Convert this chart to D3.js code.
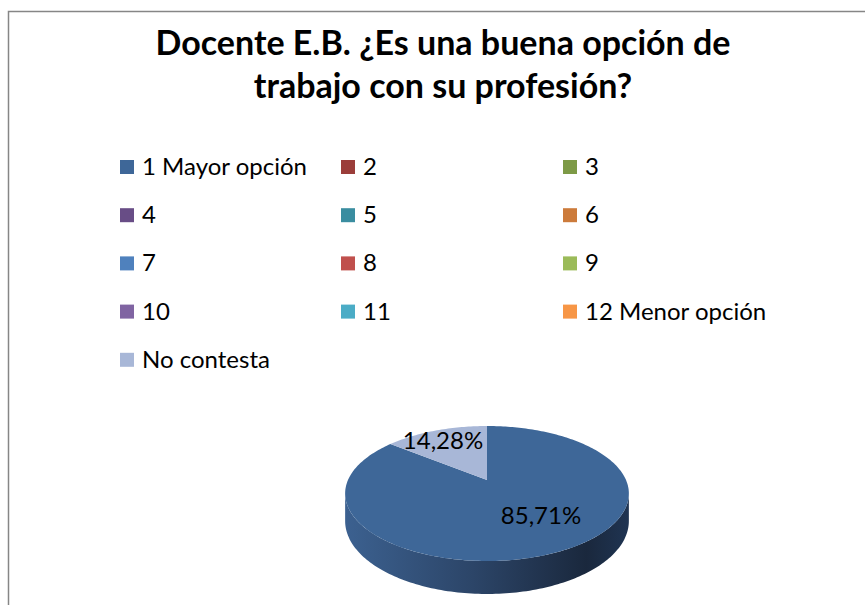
<!DOCTYPE html>
<html>
<head>
<meta charset="utf-8">
<script src="https://cdn.jsdelivr.net/npm/d3@7"></script>
<style>
    body { margin: 0; background: #fff; }
    svg { display: block; font-family: Lato, 'Noto Sans', sans-serif; }
</style>
</head>
<body>
<svg id="chart" width="865" height="605"></svg>
<script>
var titleLines = ['Docente E.B. ¿Es una buena opción de', 'trabajo con su profesión?'];
var categories = ['1 Mayor opción', '2', '3', '4', '5', '6', '7', '8', '9', '10', '11', '12 Menor opción', 'No contesta'];
var values = [85.71, 0, 0, 0, 0, 0, 0, 0, 0, 0, 0, 0, 14.28];
var colors = ['#3e6798', '#9b3d3a', '#7d9a46', '#684d86', '#3a8da0', '#cc7b3b',
    '#4f81bd', '#c0504d', '#9bbb59', '#8064a2', '#4bacc6', '#f79646', '#a8b7d7'];

const width = 865;
const height = 605;
var svg = d3.select('#chart');

// chart frame (runs off the right and bottom edge)
svg.append('rect')
    .attr('x', 8.5)
    .attr('y', 11.5)
    .attr('width', 900)
    .attr('height', 700)
    .attr('fill', 'white')
    .attr('stroke', '#868686')
    .attr('stroke-width', 1.5);

// title
svg.append('g')
    .selectAll('text')
    .data(titleLines)
    .enter()
    .append('text')
    .attr('x', 443)
    .attr('y', (d, i) => 55 + i * 43)
    .attr('text-anchor', 'middle')
    .style('font-size', '34px')
    .style('font-weight', 'bold')
    .style('fill', '#000')
    .text((d) => d);

// legend: 3 columns
var colX = d3.scaleOrdinal().domain([0, 1, 2]).range([120, 341, 563]);
var rowY = d3.scaleLinear().domain([0, 1]).range([167, 215.2]);

var legend = svg.append('g')
    .selectAll('g')
    .data(categories)
    .enter()
    .append('g')
    .attr('transform', (d, i) => 'translate(' + colX(i % 3) + ',' + rowY(Math.floor(i / 3)) + ')');

legend.append('rect')
    .attr('x', 0)
    .attr('y', -7)
    .attr('width', 14)
    .attr('height', 14)
    .attr('fill', (d, i) => colors[i]);

legend.append('text')
    .attr('x', 22)
    .attr('y', 8)
    .style('font-size', '24px')
    .style('fill', '#000')
    .text((d) => d);

// 3D pie with a little perspective: front half drawn larger than back half
const cx = 487, cy = 480, rx = 139, ry = 64.8, depth = 26.4, persp = 0.2;

var pie = d3.pie().sort(null).value((d) => d);
var arcs = pie(values).map((a, i) => Object.assign(a, { index: i }))
    .filter((a) => a.endAngle > a.startAngle);

function pt(a, down) {
    var s = 1 / (1 + persp * Math.cos(a));
    return [cx + rx * Math.sin(a) * s, cy + (-ry * Math.cos(a) + (down || 0)) * s];
}

function arcPoints(a0, a1, down) {
    var n = Math.max(2, Math.ceil((a1 - a0) / 0.02));
    return d3.range(n + 1).map((k) => pt(a0 + (a1 - a0) * k / n, down));
}

var line = d3.line();

var defs = svg.append('defs');
var sideGrad = defs.append('linearGradient')
    .attr('id', 'side-grad')
    .attr('gradientUnits', 'userSpaceOnUse')
    .attr('x1', cx - 142).attr('x2', cx + 142)
    .attr('y1', 0).attr('y2', 0);
sideGrad.append('stop').attr('offset', '0%').attr('stop-color', '#3c6190');
sideGrad.append('stop').attr('offset', '45%').attr('stop-color', '#2c4568');
sideGrad.append('stop').attr('offset', '85%').attr('stop-color', '#1a283d');
sideGrad.append('stop').attr('offset', '100%').attr('stop-color', '#1f3452');

var pieG = svg.append('g');

// visible side walls: between the left and right silhouette points
var sideStart = Math.acos(-persp);
var sideEnd = 2 * Math.PI - sideStart;
arcs.forEach(function (a) {
    var s = Math.max(a.startAngle, sideStart);
    var e = Math.min(a.endAngle, sideEnd);
    if (e <= s) return;
    var pts = arcPoints(s, e, 0).concat(arcPoints(s, e, depth).reverse());
    pieG.append('path')
        .attr('d', line(pts) + 'Z')
        .attr('fill', a.index === 0 ? 'url(#side-grad)' : d3.color(colors[a.index]).darker(1.2));
});

// top faces
arcs.forEach(function (a) {
    var pts = [[cx, cy]].concat(arcPoints(a.startAngle, a.endAngle, 0));
    pieG.append('path')
        .attr('d', line(pts) + 'Z')
        .attr('fill', colors[a.index]);
});

// data labels
var labelPos = {
    0: [541, 524],
    12: [443, 449]
};
arcs.forEach(function (a) {
    var p = labelPos[a.index];
    if (!p) return;
    pieG.append('text')
        .attr('x', p[0])
        .attr('y', p[1])
        .attr('text-anchor', 'middle')
        .style('font-size', '24px')
        .style('fill', '#000')
        .text(String(a.value).replace('.', ',') + '%');
});
</script>
</body>
</html>
